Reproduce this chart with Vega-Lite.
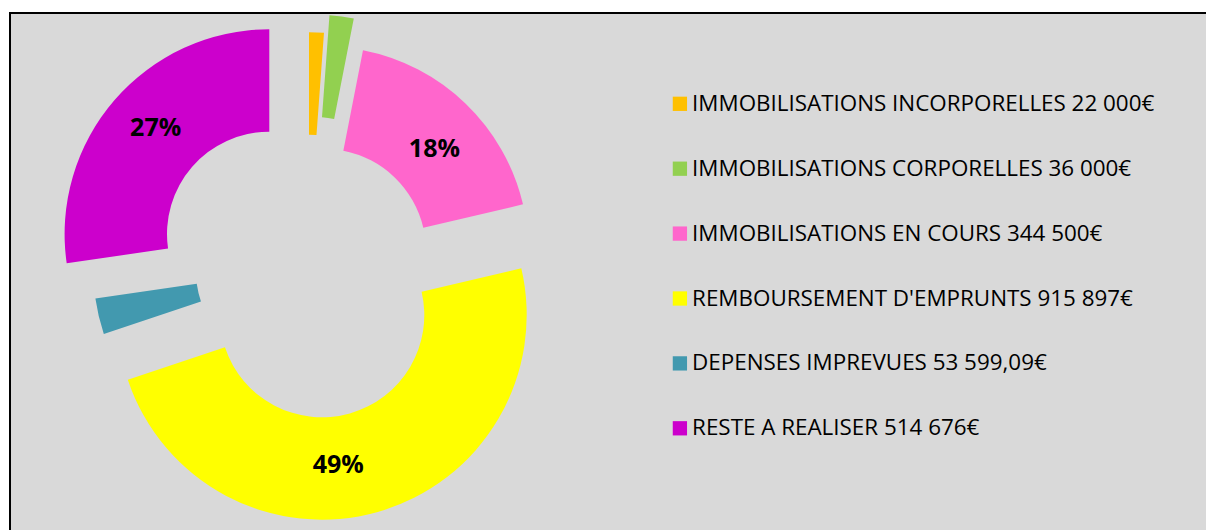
{
  "$schema": "https://vega.github.io/schema/vega-lite/v6.json",
  "background": "white",
  "padding": {"left": 9, "top": 12, "right": 0, "bottom": 0},
  "autosize": {"type": "pad"},
  "spacing": 0,
  "bounds": "flush",
  "config": {"view": {"stroke": null}, "font": "Open Sans"},
  "data": {"values": [
    {"idx": 1, "cat": "IMMOBILISATIONS INCORPORELLES 22 000€", "value": 22000, "label": ""},
    {"idx": 2, "cat": "IMMOBILISATIONS CORPORELLES 36 000€", "value": 36000, "label": ""},
    {"idx": 3, "cat": "IMMOBILISATIONS EN COURS 344 500€", "value": 344500, "label": "18%"},
    {"idx": 4, "cat": "REMBOURSEMENT D'EMPRUNTS 915 897€", "value": 915897, "label": "49%"},
    {"idx": 5, "cat": "DEPENSES IMPREVUES 53 599,09€", "value": 53599.09, "label": ""},
    {"idx": 6, "cat": "RESTE A REALISER 514 676€", "value": 514676, "label": "27%"}
  ]},
  "hconcat": [
    {
      "width": 595,
      "height": 517,
      "view": {"fill": "#d9d9d9", "stroke": "black", "strokeWidth": 2, "strokeDash": [595, 1112, 517]},
      "encoding": {
        "theta": {"field": "value", "type": "quantitative", "stack": true},
        "order": {"field": "idx", "type": "quantitative"}
      },
      "layer": [
        {"mark": {"type": "arc", "innerRadius": 102.3, "outerRadius": 204.7, "xOffset": 1.5, "yOffset": -34.5},
         "encoding": {"color": {"field": "cat", "type": "nominal"}, "opacity": {"condition": {"test": "datum.idx === 1", "value": 1}, "value": 0}}},
        {"mark": {"type": "arc", "innerRadius": 102.3, "outerRadius": 204.7, "xOffset": 7, "yOffset": -52.2},
         "encoding": {"color": {"field": "cat", "type": "nominal"}, "opacity": {"condition": {"test": "datum.idx === 2", "value": 1}, "value": 0}}},
        {"mark": {"type": "arc", "innerRadius": 102.3, "outerRadius": 204.7, "xOffset": 16.2, "yOffset": -20.4},
         "encoding": {"color": {"field": "cat", "type": "nominal"}, "opacity": {"condition": {"test": "datum.idx === 3", "value": 1}, "value": 0}}},
        {"mark": {"type": "arc", "innerRadius": 102.3, "outerRadius": 204.7, "xOffset": 14.5, "yOffset": 43.5},
         "encoding": {"color": {"field": "cat", "type": "nominal"}, "opacity": {"condition": {"test": "datum.idx === 4", "value": 1}, "value": 0}}},
        {"mark": {"type": "arc", "innerRadius": 102.3, "outerRadius": 204.7, "xOffset": -9.5, "yOffset": -2.3},
         "encoding": {"color": {"field": "cat", "type": "nominal"}, "opacity": {"condition": {"test": "datum.idx === 5", "value": 1}, "value": 0}}},
        {"mark": {"type": "arc", "innerRadius": 102.3, "outerRadius": 204.7, "xOffset": -38.2, "yOffset": -37.5},
         "encoding": {
           "color": {
             "field": "cat", "type": "nominal",
             "scale": {
               "domain": ["IMMOBILISATIONS INCORPORELLES 22 000€", "IMMOBILISATIONS CORPORELLES 36 000€", "IMMOBILISATIONS EN COURS 344 500€", "REMBOURSEMENT D'EMPRUNTS 915 897€", "DEPENSES IMPREVUES 53 599,09€", "RESTE A REALISER 514 676€"],
               "range": ["#FFC000", "#92D050", "#FF66CC", "#FFFF00", "#4299AF", "#CC00CC"]
             },
             "legend": {
               "title": null, "orient": "none", "legendX": 658.7, "legendY": 79.6,
               "symbolType": "square", "symbolSize": 204, "symbolStrokeWidth": 0, "symbolOpacity": 1,
               "labelFont": "Open Sans", "labelFontSize": 22.4, "labelColor": "black", "labelLimit": 0,
               "labelOffset": 1, "rowPadding": 41.9, "padding": 0
             }
           },
           "opacity": {"condition": {"test": "datum.idx === 6", "value": 1}, "value": 0}}},
        {"mark": {"type": "text", "radius": 153.5, "xOffset": -35.8, "yOffset": -42.7, "font": "Open Sans", "fontWeight": "bold", "fontSize": 25, "color": "black", "align": "center", "baseline": "middle"},
         "encoding": {"detail": {"field": "cat"}, "text": {"condition": {"test": "datum.idx === 6", "field": "label"}, "value": ""}}},
        {"mark": {"type": "text", "radius": 153.5, "xOffset": 20.4, "yOffset": -11.8, "font": "Open Sans", "fontWeight": "bold", "fontSize": 25, "color": "black", "align": "center", "baseline": "middle"},
         "encoding": {"detail": {"field": "cat"}, "text": {"condition": {"test": "datum.idx === 3", "field": "label"}, "value": ""}}},
        {"mark": {"type": "text", "radius": 153.5, "xOffset": -11, "yOffset": 45.8, "font": "Open Sans", "fontWeight": "bold", "fontSize": 25, "color": "black", "align": "center", "baseline": "middle"},
         "encoding": {"detail": {"field": "cat"}, "text": {"condition": {"test": "datum.idx === 4", "field": "label"}, "value": ""}}}
      ]
    },
    {
      "width": 604,
      "height": 517,
      "view": {"fill": "#d9d9d9", "stroke": "black", "strokeWidth": 2, "strokeDash": [604, 2400]},
      "mark": {"type": "point", "opacity": 0},
      "encoding": {}
    }
  ]
}
